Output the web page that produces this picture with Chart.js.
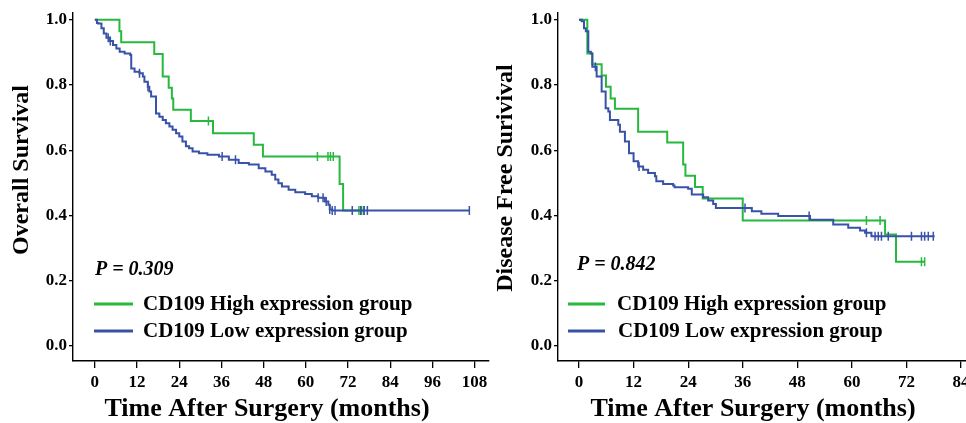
<!DOCTYPE html>
<html><head><meta charset="utf-8">
<script src="https://cdn.jsdelivr.net/npm/chart.js@4.4.0/dist/chart.umd.min.js"></script>
<style>
html,body{margin:0;padding:0;background:#fff;overflow:hidden;width:966px;height:423px;position:relative;}
#c1{position:absolute;left:0;top:0;}
#c2{position:absolute;left:483px;top:0;}
</style></head><body>
<canvas id="c1" width="495" height="423"></canvas>
<canvas id="c2" width="510" height="423"></canvas>
<script>
// ---------- DATA ----------
const seriesNames = ["CD109 High expression group", "CD109 Low expression group"];
const yTickValues = [0, 0.2, 0.4, 0.6, 0.8, 1.0];
const osXTicks = [0, 12, 24, 36, 48, 60, 72, 84, 96, 108];
const dfsXTicks = [0, 12, 24, 36, 48, 60, 72, 84];
const osYTitle = "Overall Survival";
const dfsYTitle = "Disease Free Surivival";
const xTitle = "Time After Surgery (months)";
const osPText = "P = 0.309";
const dfsPText = "P = 0.842";

// Overall survival – high expression
const osHighT = [0, 7.0, 7.5, 16.9, 19.3, 21.0, 21.9, 22.3, 27.3, 33.6, 45.2, 47.8, 69.6, 70.6, 76.4];
const osHighS = [1.0, 0.965, 0.931, 0.895, 0.826, 0.792, 0.759, 0.724, 0.690, 0.652, 0.617, 0.581, 0.496, 0.415, 0.415];
const osHighCensT = [32.3, 63.3, 66.3, 67.0, 67.8, 75.1, 75.8, 76.4];
const osHighCensS = [0.690, 0.581, 0.581, 0.581, 0.581, 0.415, 0.415, 0.415];
// Overall survival – low expression
const osLowT = [0, 0.6, 0.94, 1.88, 2.54, 3.29, 4.23, 5.17, 6.12, 7.06, 8.47, 10.07, 10.35, 11.29, 12.7, 13.65, 14.1, 15.06, 15.5, 16.0, 17.4, 18.35, 19.3, 20.2, 21.2, 22.1, 23.1, 24.0, 24.9, 25.9, 26.8, 27.8, 29.6, 32.0, 35.3, 38.1, 40.9, 43.8, 46.6, 48.5, 50.3, 51.3, 52.2, 53.2, 55.1, 57.0, 59.8, 61.7, 63.5, 65.4, 66.4, 66.8, 67.5, 106.5];
const osLowS = [1.0, 0.99, 0.989, 0.974, 0.958, 0.945, 0.935, 0.923, 0.912, 0.902, 0.897, 0.892, 0.851, 0.841, 0.836, 0.826, 0.810, 0.795, 0.780, 0.765, 0.713, 0.703, 0.693, 0.683, 0.673, 0.663, 0.652, 0.642, 0.627, 0.612, 0.606, 0.596, 0.591, 0.586, 0.581, 0.571, 0.561, 0.556, 0.545, 0.535, 0.525, 0.510, 0.499, 0.489, 0.479, 0.471, 0.466, 0.459, 0.454, 0.443, 0.433, 0.418, 0.415, 0.415];
const osLowCensT = [3.8, 4.4, 12.7, 15.1, 36.2, 40.0, 63.5, 64.9, 65.8, 66.8, 67.5, 68.3, 73.2, 75.6, 76.6, 77.5, 106.5];
const osLowCensS = [0.945, 0.935, 0.836, 0.795, 0.581, 0.571, 0.454, 0.454, 0.443, 0.418, 0.415, 0.415, 0.415, 0.415, 0.415, 0.415, 0.415];

// Disease free survival – high expression
const dfsHighT = [0, 1.83, 2.93, 4.98, 5.93, 6.96, 7.9, 13.0, 19.4, 22.9, 23.4, 25.5, 27.2, 36.0, 67.3, 69.7, 76.0];
const dfsHighS = [1.0, 0.897, 0.864, 0.829, 0.795, 0.759, 0.727, 0.657, 0.624, 0.556, 0.522, 0.487, 0.452, 0.384, 0.341, 0.258, 0.258];
const dfsHighCensT = [63.2, 66.2, 75.3, 76.0];
const dfsHighCensS = [0.384, 0.384, 0.258, 0.258];
// Disease free survival – low expression
const dfsLowT = [0, 0.59, 1.1, 1.5, 2.05, 2.6, 2.93, 3.88, 4.98, 5.86, 6.45, 6.8, 8.64, 9.0, 10.1, 11.0, 12.0, 13.0, 14.1, 15.2, 16.7, 17.0, 18.5, 20.7, 21.0, 24.0, 24.8, 27.3, 28.4, 29.5, 30.1, 38.0, 40.1, 43.8, 50.8, 55.9, 59.2, 61.8, 62.9, 64.3, 78.2];
const dfsLowS = [1.0, 0.996, 0.974, 0.965, 0.902, 0.897, 0.856, 0.826, 0.780, 0.729, 0.719, 0.693, 0.678, 0.657, 0.627, 0.591, 0.566, 0.550, 0.540, 0.530, 0.520, 0.505, 0.496, 0.492, 0.486, 0.482, 0.464, 0.456, 0.446, 0.435, 0.423, 0.413, 0.405, 0.398, 0.387, 0.372, 0.362, 0.354, 0.347, 0.336, 0.336];
const dfsLowCensT = [3.6, 13.2, 36.5, 50.6, 63.2, 65.1, 65.8, 66.5, 68.0, 73.1, 75.3, 76.0, 76.8, 77.9];
const dfsLowCensS = [0.856, 0.550, 0.423, 0.398, 0.347, 0.336, 0.336, 0.336, 0.336, 0.336, 0.336, 0.336, 0.336, 0.336];

// ---------- STYLE ----------
const FONT = '"Liberation Serif", "Times New Roman", serif';
const GREEN = '#27b83e';
const BLUE = '#3852a8';

function pts(T, S) { return T.map((t, i) => ({x: t, y: S[i]})); }

function makeTextPlugin(cfg) {
  return {
    id: 'kmText',
    afterDraw(chart) {
      const ctx = chart.ctx;
      ctx.save();
      ctx.fillStyle = '#000';
      ctx.textBaseline = 'middle';
      ctx.textAlign = 'left';
      ctx.font = 'italic bold 20px ' + FONT;
      ctx.fillText(cfg.pText, cfg.pX, cfg.pY);
      ctx.font = 'bold 21px ' + FONT;
      const cols = [GREEN, BLUE];
      seriesNames.forEach((name, i) => {
        const y = cfg.legY[i];
        ctx.strokeStyle = cols[i];
        ctx.lineWidth = 3;
        ctx.beginPath();
        ctx.moveTo(cfg.legX0, y);
        ctx.lineTo(cfg.legX1, y);
        ctx.stroke();
        ctx.fillStyle = '#000';
        ctx.fillText(name, cfg.legTX[i], y + 1);
      });
      // axis titles
      ctx.font = 'bold 26px ' + FONT;
      ctx.textAlign = 'center';
      ctx.fillText(xTitle, cfg.xtX, cfg.xtY);
      ctx.font = 'bold 24px ' + FONT;
      ctx.translate(cfg.ytX, cfg.ytY);
      ctx.rotate(-Math.PI / 2);
      ctx.fillText(cfg.yTitle, 0, 0);
      ctx.restore();
    }
  };
}

function makeChart(id, d, xmin, xmax, xticks, yWidth, padRight, textCfg) {
  const tickFont = {family: FONT, size: 17, weight: 'bold'};
  return new Chart(document.getElementById(id), {
    type: 'line',
    data: {
      datasets: [
        {label: seriesNames[1], data: pts(d.lowT, d.lowS), stepped: true, borderColor: BLUE, borderWidth: 2, pointRadius: 0, fill: false},
        {type: 'scatter', label: seriesNames[1] + ' censored', data: pts(d.lowCT, d.lowCS), showLine: false, pointStyle: 'line', rotation: 90, radius: 4.5, borderColor: BLUE, borderWidth: 1.5},
        {label: seriesNames[0], data: pts(d.highT, d.highS), stepped: true, borderColor: GREEN, borderWidth: 2, pointRadius: 0, fill: false},
        {type: 'scatter', label: seriesNames[0] + ' censored', data: pts(d.highCT, d.highCS), showLine: false, pointStyle: 'line', rotation: 90, radius: 4.5, borderColor: GREEN, borderWidth: 1.5}
      ]
    },
    options: {
      responsive: false,
      animation: false,
      devicePixelRatio: 1,
      events: [],
      layout: {padding: {left: 0, right: padRight, top: 11, bottom: 0}},
      plugins: {legend: {display: false}, tooltip: {enabled: false}},
      scales: {
        x: {
          type: 'linear', min: xmin, max: xmax,
          afterBuildTicks: s => { s.ticks = xticks.map(v => ({value: v})); },
          afterFit: s => { s.height = 62; },
          grid: {drawOnChartArea: false, drawTicks: true, tickLength: 7, color: '#000', lineWidth: 1.3},
          border: {display: true, color: '#000', width: 1.4},
          ticks: {color: '#000', font: tickFont, padding: 4, maxRotation: 0, autoSkip: false}
        },
        y: {
          type: 'linear', min: -0.0468, max: 1.0235,
          afterBuildTicks: s => { s.ticks = yTickValues.map(v => ({value: v})); },
          afterFit: s => { s.width = yWidth; },
          grid: {drawOnChartArea: false, drawTicks: true, tickLength: 4, color: '#000', lineWidth: 1.3},
          border: {display: true, color: '#000', width: 1.4},
          ticks: {color: '#000', font: tickFont, padding: 2, callback: v => Number(v).toFixed(1)}
        }
      }
    },
    plugins: [makeTextPlugin(textCfg)]
  });
}

makeChart('c1', {
  highT: osHighT, highS: osHighS, highCT: osHighCensT, highCS: osHighCensS,
  lowT: osLowT, lowS: osLowS, lowCT: osLowCensT, lowCS: osLowCensS
}, -6.212, 112.09, osXTicks, 73, 3, {
  pText: osPText, pX: 95, pY: 270, legX0: 94, legX1: 133, legY: [304, 331], legTX: [143, 143],
  xtX: 267, xtY: 409, ytX: 22, ytY: 170, yTitle: osYTitle
});

makeChart('c2', {
  highT: dfsHighT, highS: dfsHighS, highCT: dfsHighCensT, highCS: dfsHighCensS,
  lowT: dfsLowT, lowS: dfsLowS, lowCT: dfsLowCensT, lowCS: dfsLowCensS
}, -4.617, 88.83, dfsXTicks, 75, 10, {
  pText: dfsPText, pX: 94, pY: 265, legX0: 85, legX1: 122, legY: [304, 331], legTX: [134, 135],
  xtX: 270, xtY: 409, ytX: 23, ytY: 178, yTitle: dfsYTitle
});
</script>
</body></html>
